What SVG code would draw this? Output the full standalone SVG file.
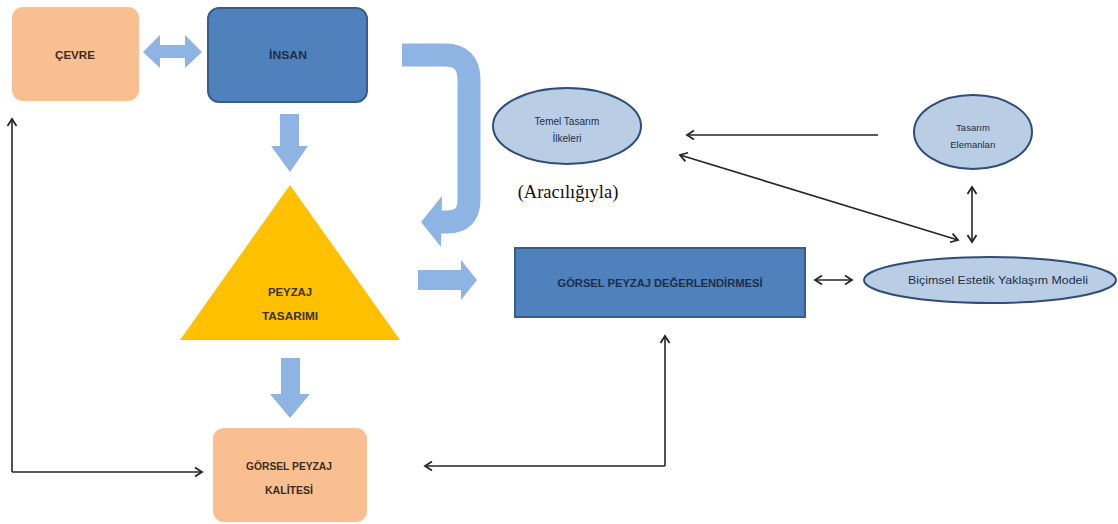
<svg xmlns="http://www.w3.org/2000/svg" width="1118" height="524" viewBox="0 0 1118 524">
<style>
.peach{fill:#F9BF90;}
.blue{fill:#4F81BD;stroke:#385D8A;stroke-width:2;}
.ell{fill:#B9CDE5;stroke:#2E4D78;stroke-width:2;}
.lbl{font-family:"Liberation Sans",Arial,sans-serif;font-weight:bold;text-anchor:middle;}
.pk{fill:#3D2B1F;font-size:11px;}
.bk{fill:#1C2E4A;font-size:11px;}
.tk{fill:#3A3320;font-size:11px;}
.sm{font-family:"Liberation Sans",Arial,sans-serif;text-anchor:middle;fill:#1C2E4A;}
.ln{fill:none;stroke:#262626;stroke-width:1.6;}
.fat{fill:#8DB4E2;}
</style>
<defs>
<marker id="ah" markerUnits="userSpaceOnUse" markerWidth="12" markerHeight="12" refX="9" refY="6" orient="auto-start-reverse">
<path d="M2,1.5 L9,6 L2,10.5" fill="none" stroke="#262626" stroke-width="1.8"/>
</marker>
</defs>
<rect width="1118" height="524" fill="#ffffff"/>

<g id="cevre">
<rect class="peach" x="12" y="7" width="127" height="94" rx="11"/>
<text class="lbl pk" x="75" y="59" textLength="40" lengthAdjust="spacingAndGlyphs">ÇEVRE</text>
</g>
<g id="insan">
<rect class="blue" x="208" y="8" width="159" height="94" rx="11"/>
<text class="lbl bk" x="288" y="59" textLength="38" lengthAdjust="spacingAndGlyphs">İNSAN</text>
</g>
<g id="peyzaj-tasarimi">
<polygon points="290,185 400,340 180,340" fill="#FFC000"/>
<text class="lbl tk" x="290" y="296" textLength="44" lengthAdjust="spacingAndGlyphs">PEYZAJ</text>
<text class="lbl tk" x="290" y="320" textLength="56" lengthAdjust="spacingAndGlyphs">TASARIMI</text>
</g>
<g id="gorsel-peyzaj-kalitesi">
<rect class="peach" x="213" y="428" width="154" height="94" rx="11"/>
<text class="lbl pk" x="289" y="470" textLength="86" lengthAdjust="spacingAndGlyphs">GÖRSEL PEYZAJ</text>
<text class="lbl pk" x="289" y="494" textLength="48" lengthAdjust="spacingAndGlyphs">KALİTESİ</text>
</g>
<g id="temel-tasarim">
<ellipse class="ell" cx="567" cy="126" rx="74" ry="38"/>
<text class="sm" x="567" y="125" font-size="10">Temel Tasarım</text>
<text class="sm" x="567" y="142" font-size="10">İlkeleri</text>
</g>
<g id="aracilgiyla">
<text x="568" y="198" font-family="'Liberation Serif','Times New Roman',serif" font-size="18.5" fill="#111" text-anchor="middle">(Aracılığıyla)</text>
</g>
<g id="tasarim-elemanlari">
<ellipse class="ell" cx="973" cy="132" rx="59" ry="37"/>
<text class="sm" x="973" y="131" font-size="9.5">Tasarım</text>
<text class="sm" x="973" y="148" font-size="9.5">Elemanları</text>
</g>
<g id="gpd">
<rect class="blue" x="515" y="248" width="290" height="69"/>
<text class="lbl bk" x="660" y="287" textLength="205" lengthAdjust="spacingAndGlyphs">GÖRSEL PEYZAJ DEĞERLENDİRMESİ</text>
</g>
<g id="bicimsel">
<ellipse class="ell" cx="990" cy="280" rx="126" ry="23"/>
<text class="sm" x="998" y="284" font-size="11" textLength="180" lengthAdjust="spacingAndGlyphs">Biçimsel Estetik Yaklaşım Modeli</text>
</g>

<g id="connectors">
<polygon class="fat" points="143,52 160,35 160,45 185,45 185,35 202,52 185,68 185,58 160,58 160,68"/>
<polygon class="fat" points="280,114 299,114 299,146 308,146 290,172 271,146 280,146"/>
<polygon class="fat" points="281,358 300,358 300,394 310,394 290,418 270,394 281,394"/>
<polygon class="fat" points="418,270 461,270 461,260 477,280 461,300 461,290 418,290"/>
<path d="M402,55 H445 Q469,55 469,80 V200 Q469,222 447,222 H440" fill="none" stroke="#8DB4E2" stroke-width="23"/>
<polygon class="fat" points="442,196 421,222 441,247"/>

<path class="ln" d="M12,472 V119" marker-end="url(#ah)"/>
<path class="ln" d="M12,472 H202" marker-end="url(#ah)"/>
<path class="ln" d="M665,466 V336" marker-end="url(#ah)"/>
<path class="ln" d="M665,466 H425" marker-end="url(#ah)"/>
<path class="ln" d="M878,135 H687" marker-end="url(#ah)"/>
<path class="ln" d="M680,155 L958,240" marker-start="url(#ah)" marker-end="url(#ah)"/>
<path class="ln" d="M972,187 V242" marker-start="url(#ah)" marker-end="url(#ah)"/>
<path class="ln" d="M815,280 H852" marker-start="url(#ah)" marker-end="url(#ah)"/>
</g>
</svg>
